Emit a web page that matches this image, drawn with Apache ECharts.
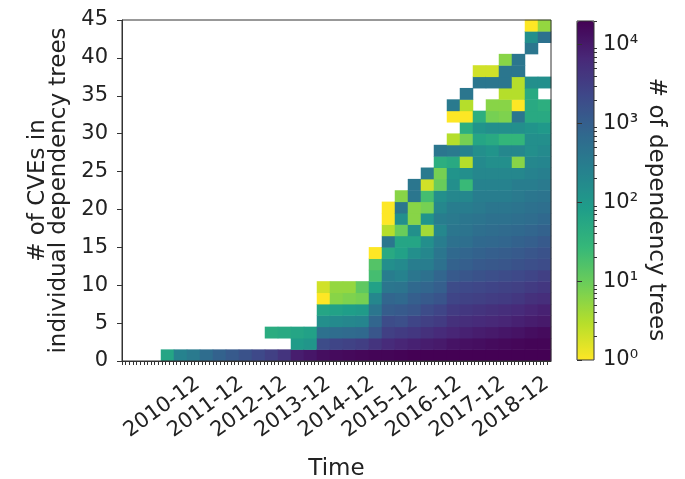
<!DOCTYPE html>
<html><head><meta charset="utf-8">
<script src="https://cdn.jsdelivr.net/npm/echarts@6/dist/echarts.min.js"></script>
<style>html,body{margin:0;padding:0;background:#fff}#c{width:685px;height:479px}</style>
</head><body><div id="c"></div>
<script>
// ---- data ----
// x tick categories: monthly snapshots
const firstMonth = [2009, 3];
const lastMonth = [2018, 12];
// y tick labels
const yTicks = [0, 5, 10, 15, 20, 25, 30, 35, 40, 45];
const yMax = 45;
const rowCount = 30;      // CVE-count bins (1.5 wide)
const colCount = 33;      // time bins
// colorbar tick exponents
const cbarExponents = [0, 1, 2, 3, 4];
const cbarMax = 20000;
// counts per time bin (index = column), listed from bin 0 upward; 0 = empty
const counts = [
  [], [], [],
  [60],
  [250],
  [350],
  [600],
  [900],
  [1200],
  [1600],
  [2200],
  [3000,0,45],
  [4500,0,50],
  [9000,90,60],
  [11000,110,70],
  [14000,2000,500,150,60,1,2],
  [15000,2500,600,180,70,6,5],
  [16000,2800,650,200,80,7,5],
  [17000,3200,700,220,90,8,12],
  [18000,4500,1400,800,400,200,70,20,15,1],
  [18000,6000,3000,2000,1100,800,400,300,150,50,400,3,1,1],
  [19000,7000,3500,1800,1200,700,450,250,180,70,60,10,150,400,6],
  [20000,8000,4000,2500,1400,1000,700,400,300,150,60,140,6,6,400,400],
  [20000,9000,5000,3000,2000,1200,800,500,300,200,150,4,120,8,20,2,350],
  [20000,10000,6000,3500,2500,1500,1000,800,500,400,300,200,300,200,150,10,8,40,400],
  [20000,12000,7000,5000,3500,2500,2000,1200,900,700,500,400,350,300,200,150,120,50,350,3,0,1,350],
  [20000,13000,8000,5500,4000,2800,2200,1400,1000,800,550,450,400,300,200,25,150,3,250,8,40,1,3,400],
  [20000,14000,9000,6000,4500,3000,2400,1600,1200,900,700,550,450,350,300,250,200,180,150,60,120,40,0,0,400,2],
  [20000,15000,10000,6500,5000,3300,2600,1800,1300,1000,750,600,500,400,300,250,200,150,120,50,150,8,6,0,400,2],
  [20000,16000,11000,7000,5500,3500,2800,2000,1400,1100,800,650,500,400,300,250,200,150,200,30,150,7,6,3,400,400,6],
  [20000,17000,12000,8000,6000,4000,3000,2200,1600,1200,900,700,550,450,350,300,200,6,200,30,150,400,1,3,3,400,400],
  [20000,18000,14000,9000,7000,5000,3500,2500,1800,1400,1000,800,600,500,400,300,250,200,150,150,120,50,50,50,150,0,0,400,150,1],
  [20000,18000,15000,10000,8000,5500,4000,3000,2000,1600,1200,900,700,550,450,350,280,220,180,150,100,50,40,0,150,0,0,0,500,5]
];
const viridisR = ['#fde725','#b5de2b','#6ece58','#35b779','#1f9e89','#26828e','#31688e','#3e4989','#482878','#440154'];

// ---- build ----
const months = [];
for (let y = firstMonth[0]; y <= lastMonth[0]; y++) {
  for (let m = 1; m <= 12; m++) {
    if (y === firstMonth[0] && m < firstMonth[1]) continue;
    if (y === lastMonth[0] && m > lastMonth[1]) continue;
    months.push(y + '-' + String(m).padStart(2, '0'));
  }
}
const monthTickIdx = months.map((_, i) => i);
const monthLabelIdx = monthTickIdx.filter(i => months[i].endsWith('-12') && months[i] >= '2010-12');
const colCats = Array.from({length: colCount}, (_, i) => String(i));
const rowCats = Array.from({length: rowCount}, (_, i) => String(i));
const heat = [];
counts.forEach((col, c) => col.forEach((v, r) => { if (v > 0) heat.push([c, r, Math.log10(v), v]); }));
const logMax = Math.log10(cbarMax);
const minorTicks = [];
for (let d = 0; d <= 4; d++) for (let k = 2; k <= 9; k++) { const lv = Math.log10(k * Math.pow(10, d)); if (lv <= logMax + 1e-9) minorTicks.push(lv); }
const sup = ['\u2070','\u00b9','\u00b2','\u00b3','\u2074'];

const FONT = 'DejaVu Sans';
const TXT = '#222';
const TICK_FS = 21;
const TITLE_FS = 23;
const G = {left: 122, top: 20, width: 429, height: 341};
const CB = {left: 577, top: 21, width: 17, height: 339};

const chart = echarts.init(document.getElementById('c'), null, {renderer: 'canvas'});
chart.setOption({
  animation: false,
  backgroundColor: '#fff',
  textStyle: {fontFamily: FONT, color: TXT},
  grid: [
    {left: G.left, top: G.top, width: G.width, height: G.height, show: true, borderColor: '#333', borderWidth: 1, backgroundColor: 'transparent', z: 5, containLabel: false, outerBoundsMode: 'none'},
    {left: CB.left, top: CB.top, width: CB.width, height: CB.height, show: true, borderColor: '#333', borderWidth: 1, backgroundColor: 'transparent', z: 5, containLabel: false, outerBoundsMode: 'none'}
  ],
  xAxis: [
    {type: 'category', gridIndex: 0, data: colCats, show: false, position: 'bottom'},
    {type: 'value', gridIndex: 0, min: 0, max: months.length, interval: 1, position: 'bottom', z: 10,
     axisLine: {show: true, onZero: false, lineStyle: {color: '#333'}},
     splitLine: {show: false},
     axisTick: {show: true, inside: false, length: 4, customValues: monthTickIdx, lineStyle: {color: '#333'}},
     axisLabel: {customValues: monthLabelIdx, formatter: v => months[Math.round(v)], rotate: 36, fontSize: TICK_FS, color: TXT, fontFamily: FONT, margin: 20, padding: [12, 1, 0, 0]},
     name: 'Time', nameLocation: 'middle', nameGap: 97, nameTextStyle: {fontSize: TITLE_FS, color: TXT, fontFamily: FONT}},
    {type: 'value', gridIndex: 1, show: false, min: 0, max: 1}
  ],
  yAxis: [
    {type: 'category', gridIndex: 0, data: rowCats, show: false, position: 'left'},
    {type: 'value', gridIndex: 0, min: 0, max: yMax, interval: 5, position: 'left', z: 10,
     axisLine: {show: true, onZero: false, lineStyle: {color: '#333'}},
     axisTick: {show: true, inside: false, length: 5, lineStyle: {color: '#333'}},
     splitLine: {show: false},
     axisLabel: {fontSize: TICK_FS, color: TXT, fontFamily: FONT, margin: 14, customValues: yTicks},
     name: '# of CVEs in\nindividual dependency trees', nameLocation: 'middle', nameGap: 46,
     nameTextStyle: {fontSize: TITLE_FS, lineHeight: 21, color: TXT, fontFamily: FONT, align: 'center'}},
    {type: 'value', gridIndex: 1, min: 0, max: logMax, position: 'right', z: 10,
     axisLine: {show: false}, splitLine: {show: false},
     axisTick: {show: true, inside: false, length: 5, customValues: cbarExponents, lineStyle: {color: '#333'}},
     axisLabel: {fontSize: TICK_FS, color: TXT, fontFamily: FONT, margin: 9, customValues: cbarExponents, formatter: v => '10' + sup[Math.round(v)]},
     name: '# of dependency trees', nameLocation: 'middle', nameRotate: -90, nameGap: 50,
     nameTextStyle: {fontSize: TITLE_FS, color: TXT, fontFamily: FONT, padding: [0, 0, 0, 38]}},
    {type: 'value', gridIndex: 1, min: 0, max: logMax, position: 'right', z: 10,
     axisLine: {show: false}, splitLine: {show: false}, axisLabel: {show: false},
     axisTick: {show: true, inside: false, length: 3, customValues: minorTicks, lineStyle: {color: '#333'}}}
  ],
  visualMap: {
    type: 'continuous', min: 0, max: logMax, dimension: 2, seriesIndex: 0,
    calculable: false, orient: 'vertical', left: CB.left, top: CB.top,
    itemWidth: CB.width, itemHeight: CB.height, padding: 0, showLabel: false,
    inRange: {color: viridisR}, z: 1
  },
  series: [{
    type: 'heatmap', xAxisIndex: 0, yAxisIndex: 0, data: heat, z: 1,
    itemStyle: {borderWidth: 0}, emphasis: {disabled: true}
  }]
});
</script></body></html>
